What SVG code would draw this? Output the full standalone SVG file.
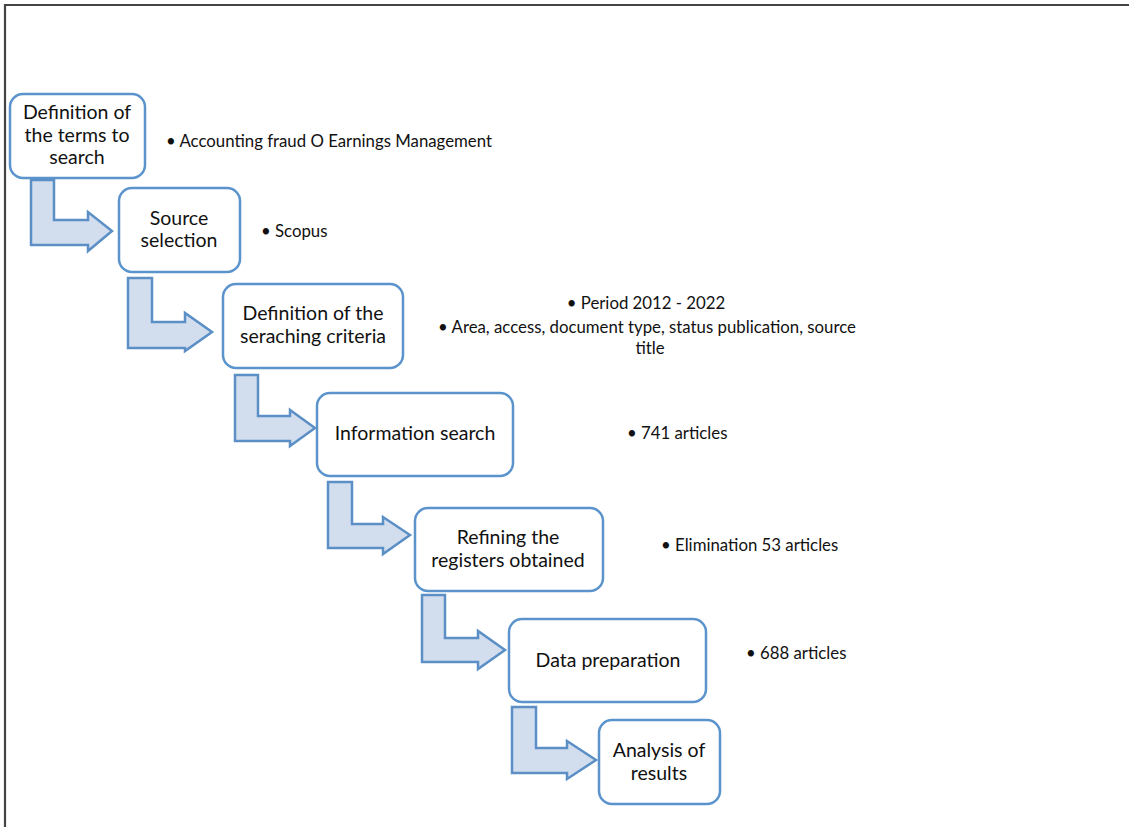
<svg xmlns="http://www.w3.org/2000/svg" width="1129" height="827" viewBox="0 0 1129 827">
<style>
.box{fill:#fff;stroke:#5b93cc;stroke-width:2.5}
.arr{fill:#d2ddee;stroke:#5b8fc6;stroke-width:2.5;stroke-linejoin:miter}
.t{font-family:Lato,"Liberation Sans",sans-serif;font-size:19.5px;fill:#111;text-anchor:middle}
.b{font-family:Lato,"Liberation Sans",sans-serif;font-size:16.8px;fill:#111}
.bm{font-family:Lato,"Liberation Sans",sans-serif;font-size:16.8px;fill:#111;text-anchor:middle}
</style>
<rect width="1129" height="827" fill="#fff"/>
<path d="M5,827 V5 H1129" fill="none" stroke="#444" stroke-width="2.2"/>
<g id="connectors">
<polygon class="arr" points="31,180 54,180 54,220 88,220 88,212 112,231 88,251 88,245 31,245"/>
<polygon class="arr" points="128,278 152,278 152,322 185,322 185,313 212,332 185,351 185,348 128,348"/>
<polygon class="arr" points="235,375 258,375 258,416 290,416 290,410 315,428 290,446 290,441 235,441"/>
<polygon class="arr" points="328,482 352,482 352,524 383,524 383,517 410,535 383,554 383,548 328,548"/>
<polygon class="arr" points="422,595 445,595 445,638 478,638 478,631 505,650 478,669 478,662 422,662"/>
<polygon class="arr" points="512,707 536,707 536,748 567,748 567,741 596,760 567,779 567,773 512,773"/>
</g>
<g id="n1">
<rect class="box" x="10" y="94" width="135" height="84" rx="13"/>
<text class="t" x="77" y="119">Definition of</text>
<text class="t" x="77" y="142">the terms to</text>
<text class="t" x="77" y="164">search</text>
</g>
<g id="n2">
<rect class="box" x="119" y="188" width="121" height="84" rx="13"/>
<text class="t" x="179" y="225">Source</text>
<text class="t" x="179" y="247">selection</text>
</g>
<g id="n3">
<rect class="box" x="223" y="284" width="180" height="84" rx="13"/>
<text class="t" x="313" y="320">Definition of the</text>
<text class="t" x="313" y="343">seraching criteria</text>
</g>
<g id="n4">
<rect class="box" x="317" y="393" width="196" height="83" rx="13"/>
<text class="t" x="415" y="440">Information search</text>
</g>
<g id="n5">
<rect class="box" x="415" y="508" width="188" height="83" rx="13"/>
<text class="t" x="508" y="544">Refining the</text>
<text class="t" x="508" y="567">registers obtained</text>
</g>
<g id="n6">
<rect class="box" x="509" y="619" width="197" height="83" rx="13"/>
<text class="t" x="608" y="667">Data preparation</text>
</g>
<g id="n7">
<rect class="box" x="599" y="720" width="121" height="84" rx="13"/>
<text class="t" x="659" y="757">Analysis of</text>
<text class="t" x="659" y="780">results</text>
</g>
<g id="notes">
<text class="b" x="166" y="147">• Accounting fraud O Earnings Management</text>
<text class="b" x="261" y="237">• Scopus</text>
<text class="bm" x="646" y="309">• Period 2012 - 2022</text>
<text class="bm" x="647" y="333">• Area, access, document type, status publication, source</text>
<text class="bm" x="650" y="354">title</text>
<text class="b" x="627" y="439">• 741 articles</text>
<text class="b" x="661" y="551">• Elimination 53 articles</text>
<text class="b" x="746" y="659">• 688 articles</text>
</g>
</svg>
